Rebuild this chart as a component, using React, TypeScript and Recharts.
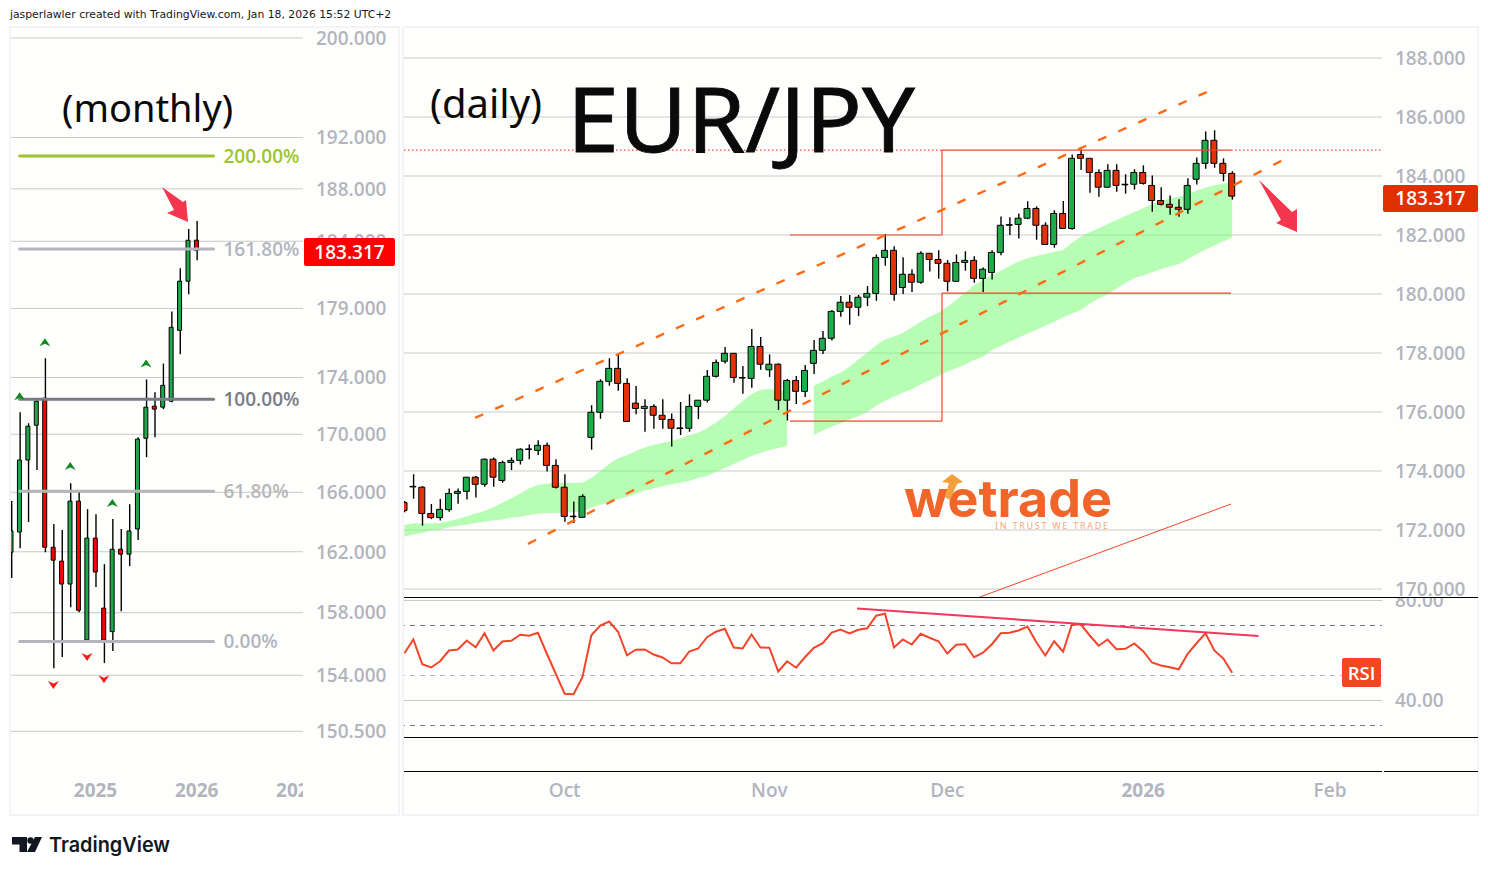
import { Area, Bar, CartesianGrid, Cell, ComposedChart, Line, ReferenceLine, XAxis, YAxis } from 'recharts';

// ---- daily EUR/JPY, one entry per session, oldest first
const dayOpen = [172.93,173.46,173.45,172.56,172.42,172.69,173.24,173.31,173.79,173.55,174.4,173.68,174.29,174.36,174.73,174.7,174.87,174.19,173.45,172.45,172.43,175.14,175.99,177.04,177.48,176.97,176.3,176.12,176.19,175.89,175.75,175.44,175.45,176.19,176.4,177.21,177.72,177.99,177.15,177.14,178.22,177.43,177.62,176.4,177.07,176.7,177.65,178.09,178.5,179.41,179.72,179.55,179.89,180.02,181.24,181.48,180.22,180.67,180.4,181.38,181.17,181.04,180.43,181.07,181.14,180.53,180.73,181.41,182.33,182.36,182.57,182.9,182.33,181.68,182.73,182.22,184.73,184.6,184.12,183.62,184.19,183.7,183.72,184.12,183.68,183.17,183.04,182.94,182.87,183.89,184.43,185.21,184.43,184.09];
const dayHigh = [172.98,173.89,173.49,172.88,173.05,173.41,173.41,173.79,173.83,174.42,174.46,174.35,174.46,174.77,174.9,175.04,174.97,174.4,173.89,172.97,173.21,176.23,177.11,177.82,177.93,177.14,176.88,176.43,176.26,176.43,175.95,176.34,176.6,176.4,177.42,177.78,178.2,177.99,177.56,178.81,178.54,177.95,177.65,177.12,177.22,177.59,178.44,178.75,179.46,179.93,179.97,179.97,180.27,181.34,182.03,181.62,181.25,180.84,181.45,181.38,181.48,181.15,181.34,181.45,181.28,180.9,181.48,182.63,182.6,182.73,183.14,182.97,182.43,182.84,183.15,184.73,184.9,184.6,184.23,184.4,184.4,184.06,184.23,184.36,184.02,183.62,183.34,183.21,183.92,184.63,185.51,185.55,184.6,184.16];
const dayLow = [172.6,173.06,172.15,172.37,172.32,172.62,172.89,173.03,173.1,173.47,173.47,173.6,174.03,174.22,174.4,174.54,173.98,173.41,172.28,172.24,172.43,174.72,175.77,176.89,176.72,175.68,175.92,175.33,175.43,175.43,174.83,175.22,175.33,175.76,176.32,177.17,177.64,176.99,176.62,176.82,177.43,177.19,176.07,175.71,176.27,176.51,177.29,177.97,178.42,179.23,178.96,179.25,179.59,179.77,180.96,179.77,180,180.07,180.35,180.76,180.52,180.09,180.43,180.79,180.38,180.07,180.49,181.31,182,181.88,182.53,181.84,181.68,181.57,182.22,182.18,184.2,183.43,183.3,183.62,183.47,183.4,183.54,183.71,182.79,183,182.69,182.62,182.72,183.71,184.25,184.28,183.82,183.2];
const dayClose = [172.66,173.48,172.56,172.42,172.7,173.24,173.31,173.79,173.55,174.4,173.79,174.29,174.36,174.74,174.75,174.87,174.19,173.45,172.46,172.47,173.14,175.99,177.04,177.48,176.97,175.68,176.12,176.19,175.89,175.75,175.45,175.46,176.19,176.4,177.21,177.68,177.99,177.17,177.17,178.22,177.62,177.62,176.4,177.07,176.7,177.41,178.09,178.5,179.41,179.72,179.55,179.89,180.02,181.24,181.48,179.99,180.67,180.4,181.38,181.17,181.04,180.43,181.07,181.14,180.53,180.84,181.41,182.33,182.35,182.57,182.9,182.33,181.68,182.73,182.22,184.6,184.6,184.12,183.62,184.19,183.68,183.72,184.12,183.75,183.17,183.04,182.94,182.87,183.68,184.43,185.21,184.43,184.09,183.317];

const bandTop = [172.17,172.23,172.22,172.22,172.24,172.3,172.37,172.47,172.56,172.65,172.77,172.92,173.08,173.24,173.41,173.53,173.57,173.6,173.6,173.59,173.6,173.76,174,174.24,174.43,174.53,174.68,174.8,174.89,174.95,175.02,175.1,175.22,175.3,175.45,175.64,175.86,176.12,176.37,176.61,176.75,176.78,176.75,176.66,null,null,176.89,177.03,177.2,177.33,177.53,177.78,178.01,178.26,178.46,178.56,178.69,178.87,179.06,179.23,179.37,179.57,179.8,180.04,180.3,180.47,180.64,180.79,180.95,181.1,181.21,181.29,181.36,181.43,181.48,181.74,181.94,182.09,182.23,182.37,182.51,182.64,182.78,182.91,183.04,183.15,183.24,183.3,183.39,183.5,183.6,183.69,183.75,183.8];
const bandBottom = [171.77,171.85,171.91,171.98,172.02,172.09,172.14,172.19,172.24,172.28,172.33,172.36,172.42,172.45,172.51,172.55,172.58,172.58,172.59,172.61,172.63,172.76,172.86,172.93,173.04,173.13,173.23,173.34,173.41,173.48,173.55,173.6,173.66,173.76,173.83,173.97,174.1,174.24,174.37,174.51,174.61,174.71,174.78,174.85,null,null,175.22,175.37,175.5,175.62,175.75,175.86,176.01,176.21,176.38,176.52,176.66,176.77,176.93,177.08,177.22,177.37,177.48,177.61,177.76,177.87,178.1,178.24,178.38,178.52,178.66,178.78,178.92,179.06,179.2,179.34,179.46,179.67,179.85,179.99,180.18,180.37,180.53,180.63,180.74,180.84,180.93,181.02,181.18,181.35,181.51,181.64,181.78,181.92];

const rsi = [58.9,64.4,54.5,53.2,55.7,60,60.4,64,61.3,66.9,60,63.6,63.9,66.3,65.9,67.1,58.7,50.7,42.7,42.5,49.3,66.1,70,71.6,67.5,58.1,60.3,60.4,58.4,57.2,54.9,54.9,59.6,60.8,65.3,67.5,68.7,61.2,60.8,66.4,61.2,61.1,51.6,55.7,53.1,57.3,61.1,62.9,67.2,68.4,66.8,68.3,68.9,73.9,74.7,61.2,64.4,62.4,66.7,65.1,63.7,58.8,62.3,62.5,57.3,59.1,62.5,66.9,67.1,68,69.6,63.3,58,63.7,59.5,70.4,70.4,66,61.9,64.4,60.5,60.7,62.8,59.7,55.2,54,53.3,52.5,58.7,62.9,66.9,60,56.8,51.1];

// ---- monthly candles for the left pane
const monthOpen = [161.97,163.32,168.21,170.63,172.53,162.3,161.38,159.87,165.4,156.24,162.91,158.3,156.78,162.17,161.84,163.52,169.72,171.97,171.9,172.32,177.4,181.01,184.08];
const monthHigh = [165.4,171.54,170.77,172.39,175.38,163.85,163.45,166.62,166.07,164.86,164.52,161.18,164.19,163.52,165.19,169.79,173.86,172.95,175,178.78,181.98,184.92,185.53];
const monthLow = [160.27,162.24,163.99,167.52,161.97,154.45,155.15,158.36,158.03,156.18,159.67,154.77,155.54,158.1,161.05,162.78,168.41,169.79,171.76,172.25,175.66,180.04,182.58];
const monthClose = [163.39,168.21,170.56,172.32,162.3,161.44,159.87,165.4,158.16,162.91,160.66,156.24,162.17,161.84,163.39,169.66,171.9,171.76,173.44,177.62,181.01,184.08,183.317];
const pivotHighSlots = [1, 4, 7, 12, 16];
const pivotHighPrices = [172.66, 176.53, 167.8, 165.27, 175];
const pivotLowSlots = [5, 9, 11];
const pivotLowPrices = [153.38, 155.15, 153.75];

const monthTicks = [200, 192, 188, 184, 179, 174, 170, 166, 162, 158, 154, 150.5];
const dayTicks = [188, 186, 184, 182, 180, 178, 176, 174, 172, 170];
const rsiTicks = [80, 40];
const monthLabels: Record<number, string> = { 10: '2025', 22: '2026', 34: '2027' };
const dayLabels: Record<number, string> = { 18: 'Oct', 41: 'Nov', 61: 'Dec', 83: '2026', 104: 'Feb' };

const dailyRows = Array.from({ length: 110 }, (_, i) => {
  if (i >= dayOpen.length) return { slot: i, wick: null, body: null, band: null, rsi: null };
  return {
    slot: i,
    wick: [dayLow[i], dayHigh[i]],
    body: [Math.min(dayOpen[i], dayClose[i]), Math.max(dayOpen[i], dayClose[i])],
    band: bandTop[i] == null ? null : [bandBottom[i], bandTop[i]],
    rsi: rsi[i],
  };
});

const monthlyRows = Array.from({ length: 35 }, (_, i) => {
  const up = pivotHighSlots.indexOf(i);
  const down = pivotLowSlots.indexOf(i);
  return {
    slot: i,
    wick: i < monthOpen.length ? [monthLow[i], monthHigh[i]] : null,
    body: i < monthOpen.length ? [Math.min(monthOpen[i], monthClose[i]), Math.max(monthOpen[i], monthClose[i])] : null,
    up: up >= 0 ? pivotHighPrices[up] : null,
    down: down >= 0 ? pivotLowPrices[down] : null,
  };
});

const AXIS_FONT = '"Open Sans", sans-serif';
const AXIS_GREY = '#b2b5be';
const GRID = '#c9c9c9';
const PANE = '#feffFd';
const FRAME = '#f3f4f5';
const DASHES = '#ff6a13';
const BOX = '#f2452a';

const axisTick = { fill: AXIS_GREY, fontSize: 19, fontFamily: AXIS_FONT, fontWeight: 600 };

function timeTick(labels: Record<number, string>) {
  return ({ x, y, payload }: any) => {
    const text = labels[payload.value];
    const isYear = /^\d/.test(text);
    return (
      <text x={x} y={y} textAnchor="middle" dominantBaseline="central" fill={AXIS_GREY} fontSize={19} fontFamily={AXIS_FONT} fontWeight={isYear ? 700 : 600}>
        {text}
      </text>
    );
  };
}

function chevron(color: string, up: boolean) {
  return ({ cx, cy, index }: any) => {
    if (cy == null) return <g key={index} />;
    const d = up
      ? `M${cx - 5.5} ${cy + 4}L${cx} ${cy - 4}L${cx + 5.5} ${cy + 4}L${cx} ${cy + 1.5}Z`
      : `M${cx - 5.5} ${cy - 4}L${cx} ${cy + 4}L${cx + 5.5} ${cy - 4}L${cx} ${cy - 1.5}Z`;
    return <path key={index} d={d} fill={color} />;
  };
}

function fibLine(price: number, label: string, color: string) {
  return (
    <ReferenceLine
      key={label}
      xAxisId="body"
      segment={[{ x: 1, y: price }, { x: 24, y: price }]}
      stroke={color}
      strokeWidth={3}
      strokeLinecap="round"
      label={{ value: label, position: 'right', offset: 10, fill: color, fontSize: 19, fontFamily: AXIS_FONT, fontWeight: 600 }}
    />
  );
}

function seg(x1: number, y1: number, x2: number, y2: number, stroke: string, extra: any = {}) {
  return (
    <ReferenceLine
      key={`${x1}-${y1}-${x2}-${y2}`}
      xAxisId="pos"
      segment={[{ x: x1, y: y1 }, { x: x2, y: y2 }]}
      stroke={stroke}
      strokeWidth={1.2}
      ifOverflow="visible"
      {...extra}
    />
  );
}

function MonthlyChart() {
  return (
    <div style={{ position: 'absolute', left: 0, top: 0, width: 399, height: 815, overflow: 'hidden' }}>
      <ComposedChart width={399} height={815} data={monthlyRows} margin={{ top: 27, left: 7, right: 0, bottom: 0 }}>
        <XAxis xAxisId="body" dataKey="slot" height={44} padding={{ left: 0, right: 1 }} axisLine={false} tickLine={false} tickSize={0} tickMargin={19} ticks={[10, 22, 34]} interval={0} tick={timeTick(monthLabels)} />
        <XAxis xAxisId="wick" dataKey="slot" hide padding={{ left: 0, right: 1 }} />
        <YAxis orientation="right" width={96} scale="log" domain={[148.07, 200.9]} allowDataOverflow ticks={monthTicks} interval={0} axisLine={false} tickLine={false} tickSize={0} tickMargin={13} tick={axisTick} tickFormatter={(v: number) => v.toFixed(3)} />
        <CartesianGrid xAxisId="body" vertical={false} syncWithTicks stroke={GRID} />
        <Bar xAxisId="wick" dataKey="wick" barSize={1.4} fill="#000" isAnimationActive={false} />
        <Bar xAxisId="body" dataKey="body" barSize={4} stroke="#000" strokeWidth={1} isAnimationActive={false}>
          {monthOpen.map((o, i) => (
            <Cell key={i} fill={monthClose[i] >= o ? '#1fa84a' : '#ff0000'} />
          ))}
        </Bar>
        <Line xAxisId="body" dataKey="up" stroke="none" isAnimationActive={false} dot={chevron('#0b8a1e', true)} />
        <Line xAxisId="body" dataKey="down" stroke="none" isAnimationActive={false} dot={chevron('#ff1a1a', false)} />
        {fibLine(190.54, '200.00%', '#9cc42e')}
        {fibLine(183.42, '161.80%', '#b2b5be')}
        {fibLine(172.46, '100.00%', '#787b86')}
        {fibLine(166.07, '61.80%', '#b7b7b7')}
        {fibLine(156.15, '0.00%', '#b2b5be')}
      </ComposedChart>
    </div>
  );
}

function PriceChart() {
  return (
    <div style={{ position: 'absolute', left: 400, top: 28, width: 1078, height: 569, overflow: 'hidden' }}>
      <ComposedChart width={1078} height={569} data={dailyRows} margin={{ top: 0, left: 0, right: 0, bottom: 0 }}>
        <XAxis xAxisId="body" dataKey="slot" hide padding={{ left: 0, right: 3 }} />
        <XAxis xAxisId="wick" dataKey="slot" hide padding={{ left: 0, right: 3 }} />
        <XAxis xAxisId="pos" type="number" hide domain={[0, 109]} allowDataOverflow />
        <YAxis orientation="right" width={96} domain={[169.729, 189.017]} allowDataOverflow ticks={dayTicks} interval={0} axisLine={false} tickLine={false} tickSize={0} tickMargin={13} tick={axisTick} tickFormatter={(v: number) => v.toFixed(3)} />
        <CartesianGrid xAxisId="body" vertical={false} syncWithTicks stroke={GRID} />
        <Area xAxisId="body" dataKey="band" stroke="none" fill="#7dfb78" fillOpacity={0.55} isAnimationActive={false} />
        {seg(60.16, 184.88, 92.24, 184.88, BOX)}
        {seg(92.24, 184.88, 109, 184.88, BOX, { strokeDasharray: '1.5 2.5' })}
        {seg(0.44, 184.88, 60.16, 184.88, BOX, { strokeDasharray: '1.5 2.5' })}
        {seg(43.29, 182, 60.16, 182, BOX)}
        {seg(60.16, 184.88, 60.16, 182, BOX)}
        {seg(60.16, 180.03, 92.24, 180.03, BOX)}
        {seg(60.16, 180.03, 60.16, 175.69, BOX)}
        {seg(43.29, 175.69, 60.16, 175.69, BOX)}
        {seg(64.38, 169.73, 92.24, 172.88, BOX, { strokeWidth: 1 })}
        <Bar xAxisId="wick" dataKey="wick" barSize={1.4} fill="#000" isAnimationActive={false} />
        <Bar xAxisId="body" dataKey="body" barSize={6} stroke="#000" strokeWidth={1} isAnimationActive={false}>
          {dayOpen.map((o, i) => (
            <Cell key={i} fill={dayClose[i] >= o ? '#1fad4b' : '#e3310a'} />
          ))}
        </Bar>
        {seg(8.33, 175.8, 89.58, 186.85, DASHES, { strokeWidth: 2.4, strokeDasharray: '9 13' })}
        {seg(14.21, 171.53, 98.01, 184.54, DASHES, { strokeWidth: 2.4, strokeDasharray: '9 13' })}
      </ComposedChart>
    </div>
  );
}

function RsiChart() {
  return (
    <div style={{ position: 'absolute', left: 400, top: 597, width: 1078, height: 218, overflow: 'hidden' }}>
      <ComposedChart width={1078} height={218} data={dailyRows} margin={{ top: 0, left: 0, right: 0, bottom: 0 }}>
        <XAxis xAxisId="body" dataKey="slot" height={44} padding={{ left: 4.45, right: 7.45 }} axisLine={false} tickLine={false} tickSize={0} tickMargin={19} ticks={[18, 41, 61, 83, 104]} interval={0} tick={timeTick(dayLabels)} />
        <XAxis xAxisId="pos" type="number" hide domain={[0, 109]} allowDataOverflow />
        <YAxis orientation="right" width={96} domain={[11.8, 81.4]} allowDataOverflow ticks={rsiTicks} interval={0} axisLine={false} tickLine={false} tickSize={0} tickMargin={13} tick={axisTick} tickFormatter={(v: number) => v.toFixed(2)} />
        <CartesianGrid xAxisId="body" vertical={false} syncWithTicks stroke={GRID} />
        {seg(0, 70, 109, 70, '#787b86', { strokeWidth: 1, strokeDasharray: '5 5' })}
        {seg(0, 50, 109, 50, AXIS_GREY, { strokeWidth: 1, strokeDasharray: '5 5' })}
        {seg(0, 30, 109, 30, '#787b86', { strokeWidth: 1, strokeDasharray: '5 5' })}
        <Line xAxisId="body" dataKey="rsi" stroke={BOX} strokeWidth={2} dot={false} isAnimationActive={false} />
        {seg(50.73, 76.76, 95.29, 65.8, '#f5365c', { strokeWidth: 2 })}
      </ComposedChart>
    </div>
  );
}

function Rule({ left, top, width, color = '#000', height = 1 }: any) {
  return <div style={{ position: 'absolute', left, top, width, height, background: color }} />;
}

export default function App() {
  const tag = (left: number, top: number, width: number, height: number, background: string, text: string) => (
    <div style={{ position: 'absolute', left, top, width, height, background, color: '#fff', borderRadius: 2, font: `600 19px ${AXIS_FONT}`, lineHeight: `${height}px`, textAlign: 'center' }}>{text}</div>
  );
  return (
    <div style={{ position: 'absolute', left: 0, top: 0, width: 1488, height: 875, background: '#fff', overflow: 'hidden' }}>
      <div style={{ position: 'absolute', left: 10, top: 8, font: '10.8px "DejaVu Sans", sans-serif', color: '#131722', whiteSpace: 'nowrap' }}>
        jasperlawler created with TradingView.com, Jan 18, 2026 15:52 UTC+2
      </div>

      <div style={{ position: 'absolute', left: 9, top: 26, width: 391, height: 790, background: PANE }} />
      <div style={{ position: 'absolute', left: 403, top: 26, width: 1076, height: 790, background: PANE }} />

      <MonthlyChart />
      <PriceChart />
      <RsiChart />

      {/* clip the bars that hang off the pane edges */}
      <div style={{ position: 'absolute', left: 0, top: 27, width: 10, height: 788, background: '#fff' }} />
      <div style={{ position: 'absolute', left: 303, top: 778, width: 95, height: 34, background: PANE }} />
      <div style={{ position: 'absolute', left: 400, top: 27, width: 4, height: 788, background: '#fff' }} />

      <div style={{ position: 'absolute', left: 9, top: 26, width: 387, height: 786, border: `2px solid ${FRAME}` }} />
      <div style={{ position: 'absolute', left: 402, top: 26, width: 1073, height: 786, border: `2px solid ${FRAME}` }} />

      <Rule left={404} top={597} width={1074} />
      <Rule left={404} top={737} width={1074} />
      <Rule left={404} top={771} width={978} />
      <Rule left={1384} top={771} width={94} />

      {tag(304, 238, 91, 28, '#ff0000', '183.317')}
      {tag(1383, 185, 95, 27, '#e03000', '183.317')}
      <div style={{ position: 'absolute', left: 1342, top: 658, width: 39, height: 29, background: '#f24822', color: '#fff', borderRadius: 2, font: `600 18.5px ${AXIS_FONT}`, lineHeight: '29px', textAlign: 'center' }}>RSI</div>

      <svg width={1488} height={875} style={{ position: 'absolute', left: 0, top: 0, pointerEvents: 'none' }}>
        <text x={62} y={122} fontFamily='"Noto Sans", sans-serif' fontSize={38} fill="#0a0a0a">(monthly)</text>
        <text x={430} y={118} fontFamily='"Noto Sans", sans-serif' fontSize={40} fill="#0a0a0a">(daily)</text>
        <text x={567} y={152} fontFamily='"Noto Sans", sans-serif' fontSize={90} fill="#0a0a0a" stroke="#0a0a0a" strokeWidth={0.8} textLength={348} lengthAdjust="spacingAndGlyphs">EUR/JPY</text>

        <polygon points="162,187 183,202 186,200 188,222 167,213 174,210" fill="#f5364f" />
        <polygon points="1259,180 1292,212 1297,209 1297,232 1276,223 1281,220" fill="#f5364f" />

        <text x={904} y={517} fontFamily="Inter, sans-serif" fontWeight={700} fontSize={52} fill="#f1652a" textLength={208} lengthAdjust="spacingAndGlyphs">wetrade</text>
        <polygon points="942,482 952,474 963,482 957,484 950,500 945,497 949,483" fill="#f59f3a" />
        <text x={995} y={529} fontFamily='"Noto Sans", sans-serif' fontSize={9} fill="#f6a67f" textLength={113}>IN TRUST WE TRADE</text>

        <path d="M12 837h15v15h-7.5v-7.5H12z" fill="#131722" />
        <circle cx={30.5} cy={840.5} r={3.2} fill="#131722" />
        <polygon points="35,837 42,837 35,852 27,852" fill="#131722" />
        <text x={49} y={852} fontFamily="Inter, sans-serif" fontWeight={600} fontSize={20.5} fill="#131722" textLength={121} lengthAdjust="spacingAndGlyphs">TradingView</text>
      </svg>
    </div>
  );
}
